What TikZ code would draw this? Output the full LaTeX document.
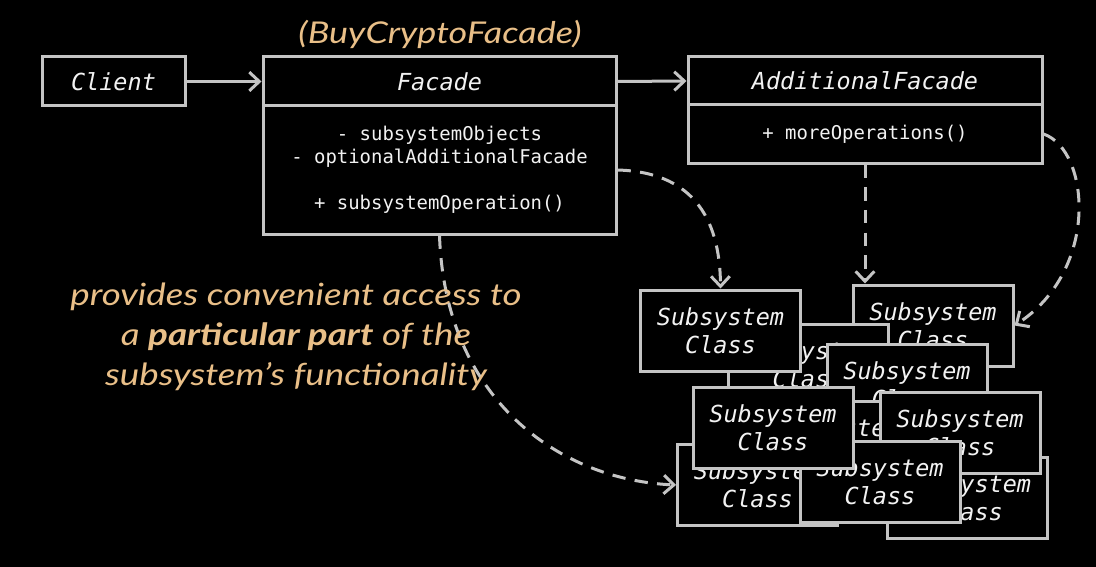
\documentclass[tikz,border=0pt]{standalone}
\usepackage{fontspec}
\usetikzlibrary{arrows.meta,calc}
\newfontfamily\codefont{DejaVu Sans Mono}
\newfontfamily\notefont{Lato}[FakeStretch=1.2]
\definecolor{edge}{HTML}{C4C4C4}
\definecolor{ink}{HTML}{F2F2F2}
\definecolor{tan}{HTML}{E9BF88}
\tikzset{
  box/.style={draw=edge, line width=2.25pt, fill=black, text=ink, inner sep=0pt, anchor=center},
  titlebox/.style={box, font=\codefont\itshape\fontsize{17.6}{21}\selectfont},
  members/.style={box, align=center, font=\codefont\fontsize{14.2}{17.25}\selectfont},
  subbox/.style={box, minimum width=120pt, minimum height=60.75pt, align=center,
    font=\codefont\itshape\fontsize{17.6}{21}\selectfont},
  assoc/.style={draw=edge, line width=2.25pt,
    -{Straight Barb[length=7.5pt,width=14pt,line width=2.25pt]}},
  dep/.style={assoc, dash pattern=on 10pt off 7pt},
  note/.style={text=tan, inner sep=0pt}
}
\begin{document}
\begin{tikzpicture}[x=0.75pt,y=-0.75pt]
\fill[black] (0,0) rectangle (1096,567);
\useasboundingbox (0,0) rectangle (1096,567);

% top row
\node[titlebox, minimum width=107.25pt, minimum height=36.75pt] (client) at (113.5,81.5) {Client};
\node[titlebox, minimum width=264.75pt, minimum height=36.75pt] (facadeT) at (439.5,81.5) {Facade};
\node[members, minimum width=264.75pt, minimum height=96pt] (facadeB) at (439.5,170)
  {- subsystemObjects\\- optionalAdditionalFacade\\\mbox{}\\+ subsystemOperation()};
\node[titlebox, minimum width=265.5pt, minimum height=36pt] (addlT) at (865,81) {AdditionalFacade};
\node[members, minimum width=265.5pt, minimum height=43.5pt] (addlB) at (865,134) {+ moreOperations()};

\node[note, font=\notefont\itshape\fontsize{22.5}{26}\selectfont] (alias) at (440,34) {(BuyCryptoFacade)};

% connectors
\draw[assoc] (client.east) -- (facadeT.west);
\draw[assoc] (facadeT.east) -- (addlT.west);

% subsystem classes (back to front)
\node[subbox] (subB) at (933,325.5) {Subsystem\\Class};
\node[subbox] (subC) at (808,365) {Subsystem\\Class};
\node[subbox] (subD) at (907,385) {Subsystem\\Class};
\node[subbox] (subX) at (836,442) {Subsystem\\Class};
\node[subbox] (subG) at (757.5,485) {Subsystem\\Class};
\node[subbox] (subI) at (967.5,497.5) {Subsystem\\Class};
\node[subbox] (subF) at (960,433) {Subsystem\\Class};
\node[subbox] (subH) at (880,482) {Subsystem\\Class};
\node[subbox] (subE) at (773,428) {Subsystem\\Class};
\node[subbox] (subA) at (720.5,330.5) {Subsystem\\Class};

% dependencies
\draw[dep] (facadeB.east) .. controls (690,172) and (720,215) .. (subA.north);
\draw[dep] (addlB.south) -- (addlB.south |- subB.north);
\draw[dep] (addlB.east) .. controls (1090,150) and (1100,270) .. (subB.east);
\draw[dep] (facadeB.south) .. controls (445,400) and (560,480) .. (subG.west);

\node[note, align=center, font=\notefont\itshape\fontsize{23}{30}\selectfont] (desc) at (296,337)
  {provides convenient access to\\a \textbf{particular part} of the\\subsystem’s functionality};
\end{tikzpicture}
\end{document}
